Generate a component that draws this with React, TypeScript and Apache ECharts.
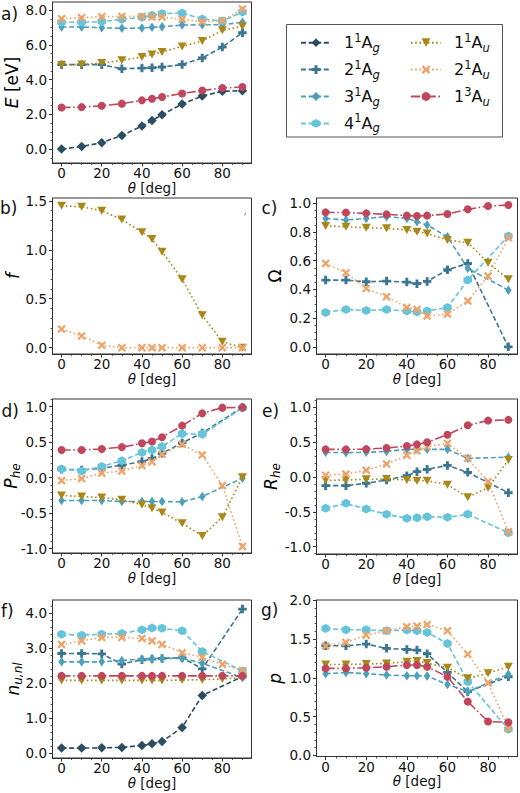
import React, { useEffect, useRef } from "react";
import * as echarts from "echarts";

// ---------- data ----------
const theta = [0, 10, 20, 30, 40, 45, 50, 60, 70, 80, 90];

const xTicks = [0, 20, 40, 60, 80];
const yTicksA = [0, 2, 4, 6, 8];
const yTicksB = [0, 0.5, 1.0, 1.5];
const yTicksC = [0, 0.2, 0.4, 0.6, 0.8, 1.0];
const yTicksD = [-1, -0.5, 0, 0.5, 1];
const yTicksE = [-1, -0.5, 0, 0.5, 1];
const yTicksF = [0, 1, 2, 3, 4];
const yTicksG = [0, 0.5, 1.0, 1.5, 2.0];

// a) excitation energies E [eV]
const E_1Ag = [0.0, 0.15, 0.37, 0.79, 1.33, 1.65, 1.98, 2.6, 3.06, 3.33, 3.37];
const E_2Ag = [4.87, 4.87, 4.87, 4.63, 4.67, 4.69, 4.73, 4.88, 5.25, 5.88, 6.71];
const E_3Ag = [7.04, 7.04, 7.0, 6.96, 6.98, 7.02, 7.06, 7.15, 7.17, 7.17, 7.31];
const E_4Ag = [7.31, 7.31, 7.35, 7.48, 7.6, 7.71, 7.81, 7.85, 7.5, 7.38, 7.9];
const E_1Au = [4.85, 4.88, 4.96, 5.12, 5.31, 5.46, 5.6, 5.92, 6.23, 6.85, 7.08];
const E_2Au = [7.52, 7.58, 7.63, 7.65, 7.65, 7.62, 7.62, 7.48, 7.35, 7.4, 8.08];
const E_13Au = [2.4, 2.42, 2.5, 2.62, 2.81, 2.9, 3.0, 3.21, 3.38, 3.52, 3.58];

// b) oscillator strength f
const f_1Au = [1.45, 1.44, 1.4, 1.31, 1.18, 1.11, 0.98, 0.7, 0.33, 0.06, 0.0];
const f_2Au = [0.19, 0.12, 0.025, 0.0, 0.0, 0.0, 0.0, 0.0, 0.0, 0.0, 0.0];

// c) Omega
const O_2Ag = [0.465, 0.465, 0.453, 0.458, 0.451, 0.44, 0.456, 0.537, 0.581, null, 0.0];
const O_3Ag = [0.895, 0.884, 0.895, 0.907, 0.895, 0.872, 0.849, 0.767, 0.547, null, 0.395];
const O_4Ag = [0.24, 0.26, 0.253, 0.26, 0.249, 0.242, 0.249, 0.274, 0.465, null, 0.772];
const O_1Au = [0.842, 0.837, 0.83, 0.826, 0.814, 0.802, 0.79, 0.744, 0.726, 0.586, 0.47];
const O_2Au = [0.581, 0.516, 0.407, 0.349, 0.274, 0.26, 0.214, 0.228, 0.319, 0.493, 0.76];
const O_13Au = [0.937, 0.935, 0.93, 0.923, 0.914, 0.912, 0.914, 0.926, 0.958, 0.981, 0.988];

// d) P_he
const P_2Ag = [0.12, 0.11, 0.133, 0.176, 0.227, 0.27, 0.344, 0.49, 0.63, null, 0.99];
const P_3Ag = [-0.32, -0.32, -0.32, -0.335, -0.335, -0.335, -0.335, -0.34, -0.265, null, -0.007];
const P_4Ag = [0.124, 0.096, 0.157, 0.24, 0.354, 0.39, 0.438, 0.62, 0.61, null, 0.98];
const P_1Au = [-0.25, -0.265, -0.28, -0.31, -0.38, -0.43, -0.49, -0.64, -0.82, -0.555, 0.007];
const P_2Au = [-0.04, -0.012, 0.063, 0.096, 0.171, 0.222, 0.33, 0.47, 0.32, -0.11, -0.967];
const P_13Au = [0.39, 0.39, 0.405, 0.43, 0.485, 0.51, 0.57, 0.733, 0.906, 0.986, 0.99];

// e) R_he
const R_2Ag = [-0.124, -0.124, -0.09, -0.043, 0.019, 0.077, 0.11, 0.167, 0.067, null, -0.225];
const R_3Ag = [0.354, 0.35, 0.354, 0.368, 0.397, 0.397, 0.397, 0.397, 0.268, null, 0.285];
const R_4Ag = [-0.45, -0.378, -0.459, -0.536, -0.593, -0.584, -0.569, -0.579, -0.536, null, -0.8];
const R_1Au = [-0.048, -0.043, -0.033, -0.029, -0.043, -0.053, -0.053, -0.11, -0.29, -0.153, 0.244];
const R_2Au = [0.024, 0.043, 0.096, 0.187, 0.311, 0.378, 0.435, 0.483, 0.268, -0.067, -0.785];
const R_13Au = [0.397, 0.397, 0.4, 0.416, 0.445, 0.469, 0.498, 0.608, 0.742, 0.81, 0.82];

// f) n_u,nl
const N_1Ag = [0.143, 0.143, 0.152, 0.162, 0.219, 0.267, 0.333, 0.733, 1.648, null, 2.19];
const N_2Ag = [2.85, 2.85, 2.84, 2.55, 2.67, 2.69, 2.71, 2.73, 2.41, null, 4.12];
const N_3Ag = [2.61, 2.61, 2.61, 2.65, 2.69, 2.7, 2.71, 2.71, 2.57, null, 2.16];
const N_4Ag = [3.4, 3.37, 3.4, 3.42, 3.53, 3.58, 3.57, 3.5, 2.91, null, 2.35];
const N_1Au = [2.08, 2.08, 2.08, 2.08, 2.08, 2.08, 2.08, 2.09, 2.1, 2.12, 2.16];
const N_2Au = [3.11, 3.21, 3.31, 3.31, 3.28, 3.21, 3.11, 2.87, 2.74, 2.54, 2.36];
const N_13Au = [2.21, 2.21, 2.21, 2.21, 2.21, 2.21, 2.21, 2.21, 2.21, 2.21, 2.21];

// g) p
const G_2Ag = [1.413, 1.413, 1.435, 1.38, 1.366, 1.358, 1.31, 1.07, 0.822, null, 1.015];
const G_3Ag = [1.053, 1.07, 1.053, 1.036, 1.028, 1.028, 1.023, 0.916, 0.822, null, 1.045];
const G_4Ag = [1.636, 1.62, 1.62, 1.606, 1.615, 1.606, 1.585, 1.443, 0.95, null, 0.338];
const G_1Au = [1.173, 1.173, 1.178, 1.186, 1.208, 1.216, 1.19, 1.13, 0.994, 1.058, 1.143];
const G_2Au = [1.41, 1.456, 1.55, 1.606, 1.657, 1.666, 1.687, 1.606, 1.306, 0.938, 0.351];
const G_13Au = [1.122, 1.122, 1.13, 1.143, 1.165, 1.165, 1.143, 1.015, 0.694, 0.437, 0.428];

// ---------- styling ----------
const FONT = '"DejaVu Sans", "Noto Sans", sans-serif';
const AX = "#333333";
const TXT = "#111111";

const PLUS = "path://M3.3,0H6.7V3.3H10V6.7H6.7V10H3.3V6.7H0V3.3H3.3Z";
const XMARK = "path://M1.9,0L5,3.1L8.1,0L10,1.9L6.9,5L10,8.1L8.1,10L5,6.9L1.9,10L0,8.1L3.1,5L0,1.9Z";
const HEX = "path://M5,0L9.33,2.5L9.33,7.5L5,10L0.67,7.5L0.67,2.5Z";
const TRI = "path://M0,0L10,0L5,8.66Z";

const DASH = [5, 2.6];
const DOT = [1.6, 2.6];
const DASHDOT = [9, 2.6, 1.6, 2.6];

const STYLE: Record<string, any> = {
  "1¹Ag": { color: "#2b4d63", dash: DASH, symbol: "diamond", size: [9.5, 9.5] },
  "2¹Ag": { color: "#3a7690", dash: DASH, symbol: PLUS, size: [8.5, 8.5] },
  "3¹Ag": { color: "#4ca0bb", dash: DASH, symbol: "diamond", size: [6.5, 9.5] },
  "4¹Ag": { color: "#65c3da", dash: DASH, symbol: HEX, size: [8.5, 9] },
  "1¹Au": { color: "#a98718", dash: DOT, symbol: TRI, size: [9, 8] },
  "2¹Au": { color: "#eda46b", dash: DOT, symbol: XMARK, size: [8.5, 8.5] },
  "1³Au": { color: "#c0475b", dash: DASHDOT, symbol: "circle", size: 8 },
};

const LEGEND_RICH: Record<string, string> = {
  "1¹Ag": "{p|1}{sup|1}{n|A}{sub|g}",
  "2¹Ag": "{p|2}{sup|1}{n|A}{sub|g}",
  "3¹Ag": "{p|3}{sup|1}{n|A}{sub|g}",
  "4¹Ag": "{p|4}{sup|1}{n|A}{sub|g}",
  "1¹Au": "{p|1}{sup|1}{n|A}{sub|u}",
  "2¹Au": "{p|2}{sup|1}{n|A}{sub|u}",
  "1³Au": "{p|1}{sup|3}{n|A}{sub|u}",
};

type Panel = {
  grid: { left: number; top: number; width: number; height: number };
  ymin: number;
  ymax: number;
  interval: number;
  minorSplit: number;
  ticks: number[];
  ytitle: string;
  tx: number;
  letter: string;
  lx: number;
  ly: number;
  series: [string, (number | null)[]][];
};

const LEFT = { left: 52.5, width: 199 };
const RIGHT = { left: 316.5, width: 201 };

const panels: Panel[] = [
  {
    grid: { ...LEFT, top: 2, height: 161 },
    ymin: -0.8, ymax: 8.48, interval: 2, minorSplit: 4, ticks: yTicksA,
    ytitle: "{i|E}{n| [eV]}", tx: 11.5, letter: "a)", lx: 1, ly: 14,
    series: [["1¹Ag", E_1Ag], ["2¹Ag", E_2Ag], ["3¹Ag", E_3Ag], ["4¹Ag", E_4Ag], ["1¹Au", E_1Au], ["2¹Au", E_2Au], ["1³Au", E_13Au]],
  },
  {
    grid: { ...LEFT, top: 198, height: 156 },
    ymin: -0.065, ymax: 1.53, interval: 0.5, minorSplit: 5, ticks: yTicksB,
    ytitle: "{i|f}", tx: 12.5, letter: "b)", lx: 0, ly: 207.5,
    series: [["1¹Au", f_1Au], ["2¹Au", f_2Au]],
  },
  {
    grid: { ...RIGHT, top: 198, height: 156 },
    ymin: -0.05, ymax: 1.037, interval: 0.2, minorSplit: 4, ticks: yTicksC,
    ytitle: "{n|Ω}", tx: 275, letter: "c)", lx: 261.5, ly: 208,
    series: [["2¹Ag", O_2Ag], ["3¹Ag", O_3Ag], ["4¹Ag", O_4Ag], ["1¹Au", O_1Au], ["2¹Au", O_2Au], ["1³Au", O_13Au]],
  },
  {
    grid: { ...LEFT, top: 399, height: 154 },
    ymin: -1.06, ymax: 1.108, interval: 0.5, minorSplit: 5, ticks: yTicksD,
    ytitle: "{i|P}{s|he}", tx: 10.5, letter: "d)", lx: 1.5, ly: 411,
    series: [["2¹Ag", P_2Ag], ["3¹Ag", P_3Ag], ["4¹Ag", P_4Ag], ["1¹Au", P_1Au], ["2¹Au", P_2Au], ["1³Au", P_13Au]],
  },
  {
    grid: { ...RIGHT, top: 399, height: 155 },
    ymin: -1.105, ymax: 1.12, interval: 0.5, minorSplit: 5, ticks: yTicksE,
    ytitle: "{i|R}{s|he}", tx: 271, letter: "e)", lx: 262, ly: 411,
    series: [["2¹Ag", R_2Ag], ["3¹Ag", R_3Ag], ["4¹Ag", R_4Ag], ["1¹Au", R_1Au], ["2¹Au", R_2Au], ["1³Au", R_13Au]],
  },
  {
    grid: { ...LEFT, top: 600, height: 158 },
    ymin: -0.14, ymax: 4.38, interval: 1, minorSplit: 5, ticks: yTicksF,
    ytitle: "{i|n}{s|u,nl}", tx: 13, letter: "f)", lx: 1, ly: 611,
    series: [["1¹Ag", N_1Ag], ["2¹Ag", N_2Ag], ["3¹Ag", N_3Ag], ["4¹Ag", N_4Ag], ["1¹Au", N_1Au], ["2¹Au", N_2Au], ["1³Au", N_13Au]],
  },
  {
    grid: { ...RIGHT, top: 600, height: 156.5 },
    ymin: -0.013, ymax: 2.003, interval: 0.5, minorSplit: 5, ticks: yTicksG,
    ytitle: "{i|p}", tx: 275, letter: "g)", lx: 261, ly: 610,
    series: [["2¹Ag", G_2Ag], ["3¹Ag", G_3Ag], ["4¹Ag", G_4Ag], ["1¹Au", G_1Au], ["2¹Au", G_2Au], ["1³Au", G_13Au]],
  },
];

const TITLE_RICH = {
  i: { fontFamily: FONT, fontSize: 17, fontStyle: "italic", color: TXT, lineHeight: 22 },
  n: { fontFamily: FONT, fontSize: 17, color: TXT, lineHeight: 22 },
  s: { fontFamily: FONT, fontSize: 12, fontStyle: "italic", color: TXT, lineHeight: 14, verticalAlign: "bottom" },
};

function buildOption() {
  const grid: any[] = [];
  const xAxis: any[] = [];
  const yAxis: any[] = [];
  const series: any[] = [];
  const graphic: any[] = [];

  panels.forEach((p, i) => {
    grid.push({
      ...p.grid,
      show: true,
      borderColor: AX,
      borderWidth: 1,
      backgroundColor: "transparent",
      containLabel: false,
      outerBoundsMode: "none",
    });
    xAxis.push({
      type: "value",
      gridIndex: i,
      z: 20,
      min: -4.5,
      max: 94.5,
      minInterval: 20,
      maxInterval: 20,
      axisLine: { show: true, onZero: false, lineStyle: { color: AX, width: 1 } },
      axisTick: { show: true, length: 3.5, customValues: xTicks, lineStyle: { color: AX, width: 1 } },
      minorTick: { show: true, splitNumber: 4, length: 2, lineStyle: { color: AX, width: 0.8 } },
      axisLabel: {
        customValues: xTicks,
        margin: 3,
        fontSize: 13.5,
        color: TXT,
        fontFamily: FONT,
        showMinLabel: true,
        showMaxLabel: true,
        hideOverlap: false,
      },
      splitLine: { show: false },
      minorSplitLine: { show: false },
      name: "{i|θ}{n| [deg]}",
      nameLocation: "middle",
      nameGap: 12,
      nameTextStyle: {
        rich: {
          i: { fontFamily: FONT, fontSize: 13.5, fontStyle: "italic", color: TXT },
          n: { fontFamily: FONT, fontSize: 13.5, color: TXT },
        },
      },
    });
    yAxis.push({
      type: "value",
      gridIndex: i,
      z: 20,
      min: p.ymin,
      max: p.ymax,
      minInterval: p.interval,
      maxInterval: p.interval,
      axisLine: { show: true, onZero: false, lineStyle: { color: AX, width: 1 } },
      axisTick: { show: true, length: 3.5, customValues: p.ticks, lineStyle: { color: AX, width: 1 } },
      minorTick: { show: true, splitNumber: p.minorSplit, length: 2, lineStyle: { color: AX, width: 0.8 } },
      axisLabel: {
        customValues: p.ticks,
        margin: 5.5,
        fontSize: 13.5,
        color: TXT,
        fontFamily: FONT,
        showMinLabel: true,
        showMaxLabel: true,
        hideOverlap: false,
        formatter: (v: number) => Number(v).toFixed(1),
      },
      splitLine: { show: false },
      minorSplitLine: { show: false },
    });
    p.series.forEach(([name, arr], k) => {
      const st = STYLE[name];
      series.push({
        type: "line",
        name,
        xAxisIndex: i,
        yAxisIndex: i,
        data: theta.map((t, j) => [t, arr[j]]).filter((d) => d[1] !== null),
        symbol: st.symbol,
        symbolSize: st.size,
        showSymbol: true,
        lineStyle: { color: st.color, width: 1.6, type: st.dash },
        itemStyle: { color: st.color, borderWidth: 0 },
        z: 2 + k,
        silent: true,
      });
    });
    const gy = p.grid.top + p.grid.height / 2;
    graphic.push({
      type: "text",
      x: p.tx,
      y: gy,
      rotation: Math.PI / 2,
      style: { text: p.ytitle, rich: TITLE_RICH, align: "center", verticalAlign: "middle" },
    });
    graphic.push({
      type: "text",
      x: p.lx,
      y: p.ly,
      style: {
        text: p.letter,
        fontFamily: FONT,
        fontSize: 17,
        fill: TXT,
        align: "left",
        verticalAlign: "middle",
      },
    });
  });

  // legend frame
  graphic.push({
    type: "rect",
    shape: { x: 286.5, y: 24.5, width: 216, height: 112.5 },
    style: { fill: "#ffffff", stroke: "#555555", lineWidth: 1 },
    z: -1,
  });
  // small stray mark in panel b
  graphic.push({
    type: "line",
    shape: { x1: 245.4, y1: 212.6, x2: 244.8, y2: 215.4 },
    style: { stroke: "#8a8a8a", lineWidth: 1 },
  });

  const legendText = {
    fontFamily: FONT,
    color: TXT,
    rich: {
      p: { fontFamily: FONT, fontSize: 16, color: TXT, lineHeight: 22, padding: [0, 0, 0, 8] },
      n: { fontFamily: FONT, fontSize: 16, color: TXT, lineHeight: 22 },
      sup: { fontFamily: FONT, fontSize: 11.5, color: TXT, lineHeight: 13, verticalAlign: "top" },
      sub: { fontFamily: FONT, fontSize: 11.5, fontStyle: "italic", color: TXT, lineHeight: 13, verticalAlign: "bottom" },
    },
  };
  const legendBase = {
    orient: "vertical",
    top: 31.7,
    padding: 0,
    itemWidth: 30,
    itemHeight: 11,
    itemGap: 4.9,
    selectedMode: false,
    formatter: (name: string) => LEGEND_RICH[name],
    textStyle: legendText,
    z: 10,
  };

  return {
    animation: false,
    backgroundColor: "#ffffff",
    textStyle: { fontFamily: FONT },
    grid,
    xAxis,
    yAxis,
    series,
    graphic,
    legend: [
      { ...legendBase, left: 300, data: ["1¹Ag", "2¹Ag", "3¹Ag", "4¹Ag"] },
      { ...legendBase, left: 410, data: ["1¹Au", "2¹Au", "1³Au"] },
    ],
  };
}

export default function App() {
  const ref = useRef<HTMLDivElement>(null);
  useEffect(() => {
    if (!ref.current) return;
    const chart = echarts.init(ref.current, null, { renderer: "svg" });
    chart.setOption(buildOption() as any);
    return () => chart.dispose();
  }, []);
  return (
    <div
      ref={ref}
      style={{ position: "fixed", left: 0, top: 0, width: 520, height: 793, background: "#fff" }}
    />
  );
}
